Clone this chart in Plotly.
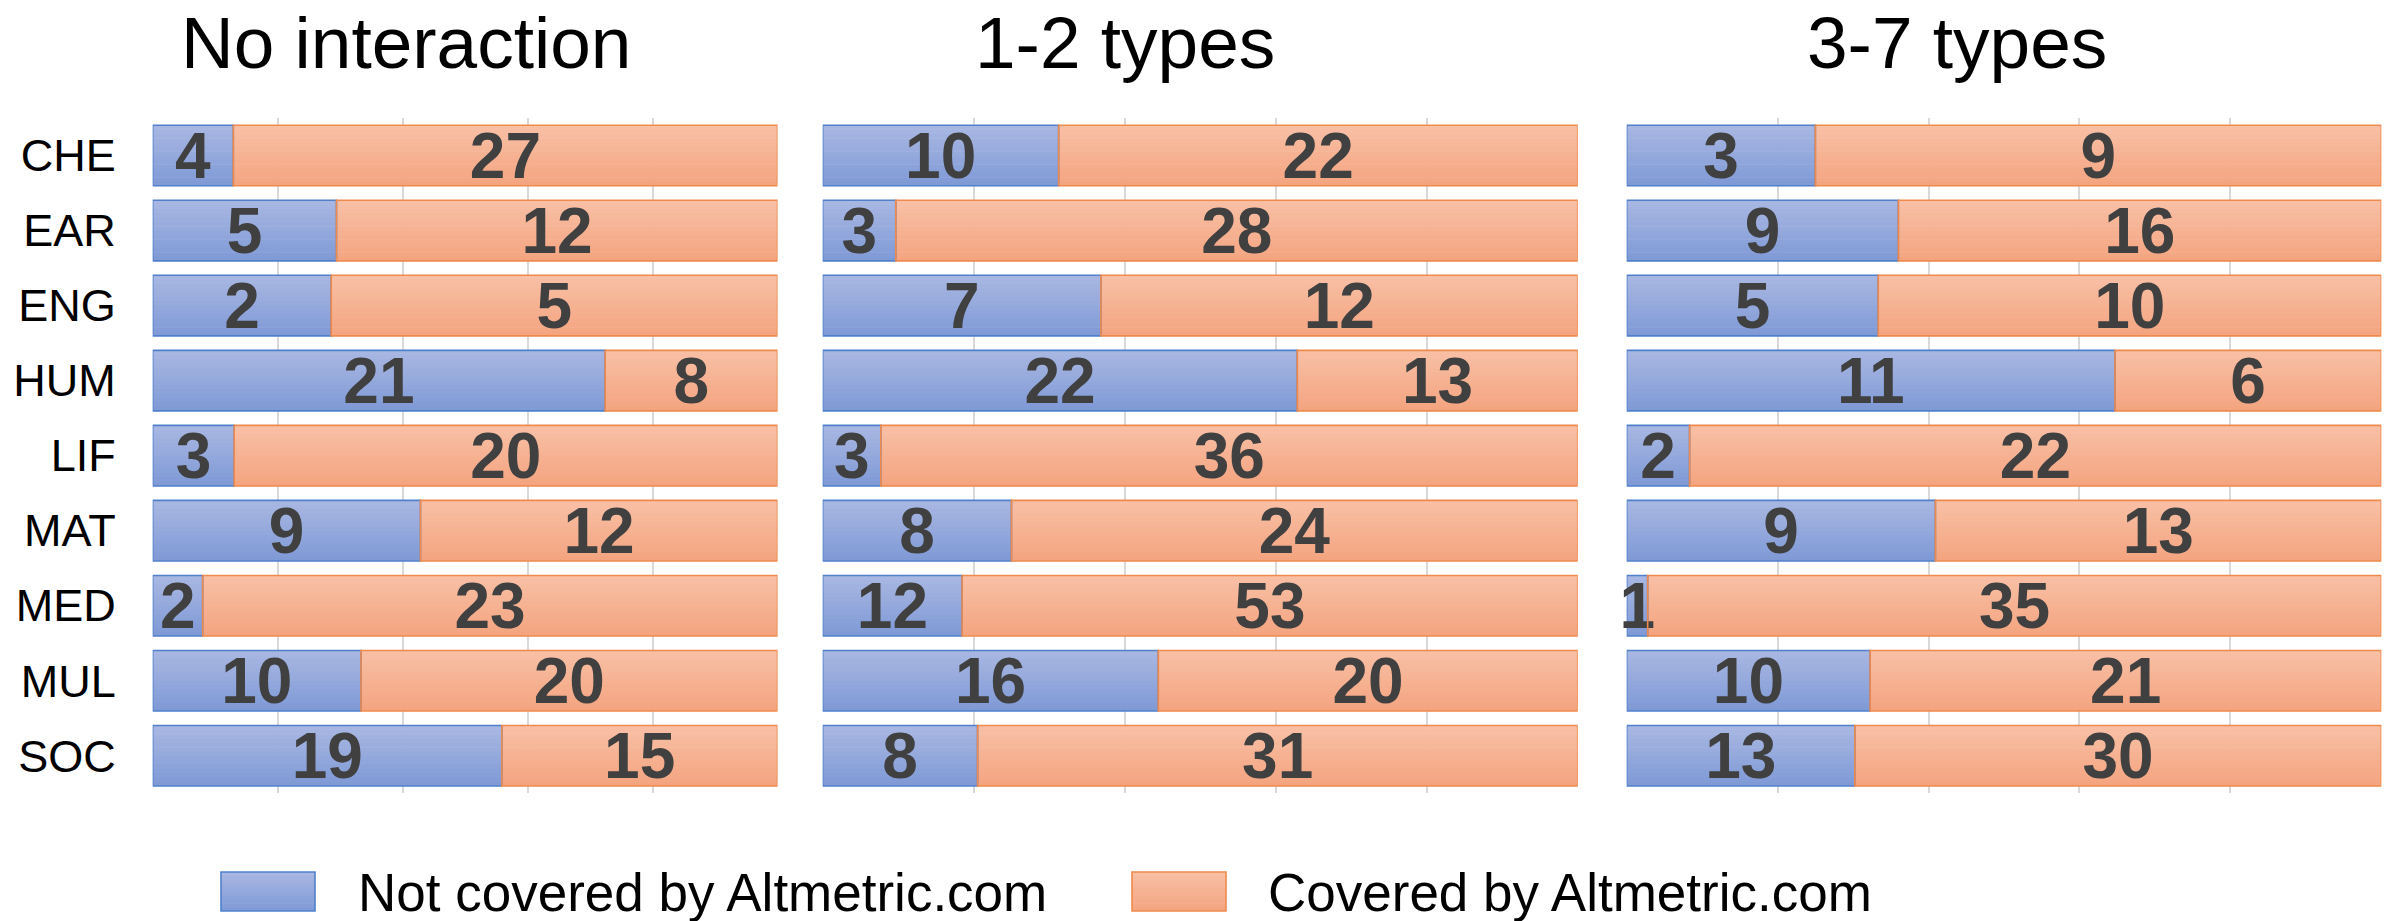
import plotly.graph_objects as go

# Subject areas (top to bottom)
subjects = ["CHE", "EAR", "ENG", "HUM", "LIF", "MAT", "MED", "MUL", "SOC"]

# Panel titles
panel_titles = ["No interaction", "1-2 types", "3-7 types"]

# Counts per subject: not covered / covered by Altmetric.com
not_covered_none = [4, 5, 2, 21, 3, 9, 2, 10, 19]
covered_none = [27, 12, 5, 8, 20, 12, 23, 20, 15]

not_covered_1_2 = [10, 3, 7, 22, 3, 8, 12, 16, 8]
covered_1_2 = [22, 28, 12, 13, 36, 24, 53, 20, 31]

not_covered_3_7 = [3, 9, 5, 11, 2, 9, 1, 10, 13]
covered_3_7 = [9, 16, 10, 6, 22, 13, 35, 21, 30]

series_labels = ["Not covered by Altmetric.com", "Covered by Altmetric.com"]

panels = [
    (not_covered_none, covered_none),
    (not_covered_1_2, covered_1_2),
    (not_covered_3_7, covered_3_7),
]

W, H = 2395, 921
FONT = "Liberation Sans, Arial, sans-serif"

# Plot-area extents in pixels
x_domains_px = [(152.7, 777.5), (822.7, 1577.7), (1626.7, 2381.3)]
y_top_px, y_bot_px = 118.0, 793.3

BAR_W = 0.807          # bar thickness in category units
N_SLICES = 14          # vertical gradient steps

blue_top, blue_bot = (170, 184, 226), (126, 153, 214)
orange_top, orange_bot = (248, 192, 166), (244, 164, 127)
blue_line, orange_line = "#5080cc", "#f08a4c"


def mix(c0, c1, t):
    return "rgb({},{},{})".format(*[round(a + (b - a) * t) for a, b in zip(c0, c1)])


fig = go.Figure()

for p, (nc, cv) in enumerate(panels):
    xa = "x" if p == 0 else f"x{p + 1}"
    ya = "y" if p == 0 else f"y{p + 1}"
    totals = [a + b for a, b in zip(nc, cv)]
    share_nc = [a / t for a, t in zip(nc, totals)]
    share_cv = [b / t for b, t in zip(cv, totals)]

    # Gradient fill built from thin horizontal slices of each bar
    for values, bases, (c0, c1) in [
        (share_nc, [0.0] * len(subjects), (blue_top, blue_bot)),
        (share_cv, share_nc, (orange_top, orange_bot)),
    ]:
        step = BAR_W / N_SLICES
        for k in range(N_SLICES):
            fig.add_trace(go.Bar(
                y=subjects, x=values, base=bases, orientation="h",
                offset=-BAR_W / 2 + k * step, width=step * 1.15 if k < N_SLICES - 1 else step,
                marker=dict(color=mix(c0, c1, (k + 0.5) / N_SLICES), line=dict(width=0)),
                xaxis=xa, yaxis=ya, showlegend=False, hoverinfo="skip",
            ))

    # Outlines and value labels
    for values, bases, counts, lc, name in [
        (share_nc, [0.0] * len(subjects), nc, blue_line, series_labels[0]),
        (share_cv, share_nc, cv, orange_line, series_labels[1]),
    ]:
        fig.add_trace(go.Bar(
            y=subjects, x=values, base=bases, orientation="h", name=name,
            offset=-BAR_W / 2, width=BAR_W,
            marker=dict(color="rgba(0,0,0,0)", line=dict(color=lc, width=1.6)),
            text=[str(c) for c in counts], textposition="inside",
            insidetextanchor="middle", textangle=0, constraintext="none",
            textfont=dict(family=FONT, size=64, color="#404040", weight="bold"),
            cliponaxis=False, xaxis=xa, yaxis=ya, showlegend=False,
        ))

layout = dict(
    width=W, height=H, autosize=False,
    margin=dict(l=0, r=0, t=0, b=0),
    paper_bgcolor="white", plot_bgcolor="white",
    barmode="overlay", showlegend=False,
    font=dict(family=FONT, color="black"),
)

for p, (x0, x1) in enumerate(x_domains_px):
    sfx = "" if p == 0 else str(p + 1)
    layout[f"xaxis{sfx}"] = dict(
        domain=[x0 / W, x1 / W], range=[0, 1], tick0=0, dtick=0.2,
        showgrid=True, gridcolor="#d9d9d9", gridwidth=2,
        zeroline=False, showline=False, showticklabels=False, ticks="",
        anchor=f"y{sfx}", fixedrange=True,
    )
    layout[f"yaxis{sfx}"] = dict(
        domain=[1 - y_bot_px / H, 1 - y_top_px / H],
        type="category", categoryorder="array", categoryarray=subjects,
        range=[len(subjects) - 0.5, -0.5],
        showgrid=False, zeroline=False, showline=False, ticks="",
        showticklabels=(p == 0), ticklabelstandoff=36,
        tickfont=dict(family=FONT, size=45, color="black"),
        anchor=f"x{sfx}", fixedrange=True,
    )

fig.update_layout(**layout)

# Panel titles
title_centers_px = [406, 1125, 1956.5]
for t, cx in zip(panel_titles, title_centers_px):
    fig.add_annotation(
        text=t, xref="paper", yref="paper", x=cx / W, y=1 - 42 / H,
        xanchor="center", yanchor="middle", showarrow=False,
        font=dict(family=FONT, size=73, color="black"),
    )

# Legend swatches and labels
legend_items = [
    (221, 315, 356, blue_top, blue_bot, blue_line, series_labels[0]),
    (1132, 1226, 1266, orange_top, orange_bot, orange_line, series_labels[1]),
]
sw_top, sw_bot = 872, 911
for bx0, bx1, tx, c0, c1, lc, label in legend_items:
    n = 10
    h = (sw_bot - sw_top) / n
    for k in range(n):
        fig.add_shape(
            type="rect", xref="paper", yref="paper",
            x0=bx0 / W, x1=bx1 / W,
            y0=1 - (sw_top + (k + 1) * h + (0.6 if k < n - 1 else 0)) / H,
            y1=1 - (sw_top + k * h) / H,
            fillcolor=mix(c0, c1, (k + 0.5) / n), line=dict(width=0), layer="above",
        )
    fig.add_shape(
        type="rect", xref="paper", yref="paper",
        x0=bx0 / W, x1=bx1 / W, y0=1 - sw_bot / H, y1=1 - sw_top / H,
        fillcolor="rgba(0,0,0,0)", line=dict(color=lc, width=1.6), layer="above",
    )
    fig.add_annotation(
        text=label, xref="paper", yref="paper", x=tx / W, y=1 - 892 / H,
        xanchor="left", yanchor="middle", showarrow=False,
        font=dict(family=FONT, size=53, color="black"),
    )

fig.write_html("out.html")
